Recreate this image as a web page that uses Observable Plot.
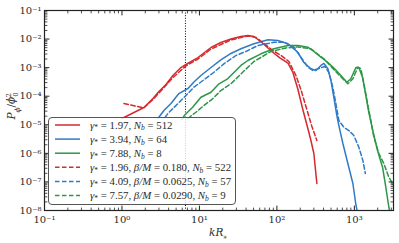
<!DOCTYPE html>
<html><head><meta charset="utf-8">
<script src="https://cdn.jsdelivr.net/npm/d3@7"></script>
<script src="https://cdn.jsdelivr.net/npm/@observablehq/plot@0.6"></script>
<style>body{margin:0;background:#fff}svg{display:block}</style>
</head><body><div id="chart"></div>
<script>
// ---- data (kR*, P_phi/phi0^2) ----
const redSolidK = [1.0,1.92,2.51,3.0,3.70,4.55,5.77,6.70,9.57,14.1,18.9,25.5,34.3,42.2,50.5,64,86,109,139,161,187,216,251,275,300,328];
const redSolidP = [1.66e-5,4.03e-5,8.3e-5,1.46e-4,2.57e-4,5.3e-4,1.01e-3,1.29e-3,2.26e-3,5.07e-3,7.6e-3,1.0e-2,1.23e-2,1.33e-2,1.23e-2,7.6e-3,3.67e-3,2.19e-3,1.45e-3,6.76e-4,1.72e-4,3.43e-5,7.4e-6,2.82e-6,9.9e-7,8.8e-8];
const blueSolidK = [2.91,3.48,4.29,5.43,7.11,8.49,10.45,14.1,18.9,25.5,34.3,50.5,76.6,103,139,187,223,275,319,370,404,455,498,544,594,631,711,824,957,1045,1109];
const blueSolidP = [1.66e-5,3.16e-5,5.56e-5,1.24e-4,1.86e-4,3.16e-4,5.3e-4,1.01e-3,1.86e-3,3.13e-3,4.57e-3,6.84e-3,9.44e-3,8.9e-3,6.84e-3,3.39e-3,1.51e-3,9.1e-4,7.94e-4,1.19e-3,1.40e-3,9.1e-4,3.55e-4,9.0e-5,2.11e-5,9.4e-6,2.21e-6,4.4e-7,8.8e-8,1.62e-8,7.2e-9];
const greenSolidK = [5.94,6.37,8.17,10.45,14.1,17.9,23.1,29.6,34.3,42.2,62.2,91.5,139,187,251,300,370,455,544,670,800,901,1045,1143,1276,1406,1538,1718,1991,2311,2549,2787,2916];
const greenSolidP = [1.53e-5,2.11e-5,4.12e-5,9.2e-5,1.38e-4,2.72e-4,4.07e-4,7.94e-4,1.19e-3,1.78e-3,3.05e-3,4.57e-3,5.96e-3,5.96e-3,5.19e-3,3.67e-3,2.32e-3,1.51e-3,9.7e-4,5.3e-4,3.09e-4,4.07e-4,1.01e-3,1.01e-3,4.5e-4,1.06e-4,2.69e-5,6.8e-6,1.26e-6,3.27e-7,6.5e-8,1.3e-8,7.2e-9];
const redDashK = [1.06,1.92,2.51,3.0,4.55,6.70,9.57,14.1,25.5,42.2,53.6,68,88.7,113,143,176,204,237,283,305,328];
const redDashP = [5.56e-5,3.9e-5,7.7e-5,1.29e-4,4.5e-4,1.15e-3,2.0e-3,4.47e-3,9.3e-3,1.29e-2,1.14e-2,7.0e-3,3.98e-3,2.66e-3,1.64e-3,5.3e-4,1.72e-4,4.37e-5,8.7e-6,4.95e-6,2.82e-6];
const blueDashK = [3.59,3.92,5.28,6.70,8.49,11.1,15.4,20.7,29.6,39.8,56.9,91.5,123,166,204,251,291,349,416,469,528,577,631,732,849,985,1143,1288,1387];
const blueDashP = [1.8e-5,2.48e-5,5.56e-5,1.06e-4,2.07e-4,3.55e-4,6.9e-4,1.36e-3,2.66e-3,3.67e-3,5.96e-3,7.76e-3,7.76e-3,5.19e-3,2.32e-3,1.04e-3,7.94e-4,9.3e-4,1.1e-3,6.76e-4,2.02e-4,5.56e-5,1.41e-5,8.2e-6,6.3e-6,4.2e-6,1.64e-6,5.6e-7,1.97e-7];
const greenDashK = [7.05,9.01,11.4,14.8,18.9,25.5,34.3,50.5,83.7,131,187,275,404,612,824,957,1109,1213,1327,1479,1633,1786,2070,2404,2787,3236];
const greenDashP = [1.66e-5,2.75e-5,4.73e-5,8.1e-5,1.58e-4,2.72e-4,6.0e-4,1.64e-3,3.67e-3,4.9e-3,5.3e-3,4.57e-3,2.04e-3,6.1e-4,2.72e-4,4.07e-4,1.04e-3,9.1e-4,2.79e-4,5.56e-5,1.41e-5,3.67e-6,9.9e-7,4.4e-7,1.46e-7,7.5e-8];
const vlineK = [6.6];

const xMajor = [0.1, 1, 10, 100, 1000];
const yMajor = [1e-8, 1e-7, 1e-6, 1e-5, 1e-4, 1e-3, 1e-2, 1e-1];
const xDomain = [0.1, 3200];
const yDomain = [1e-8, 1e-1];

const legendGamma = ["1.97", "3.94", "7.88", "1.96", "4.09", "7.57"];
const legendBeta  = [null, null, null, "0.180", "0.0625", "0.0290"];
const legendNb    = ["512", "64", "8", "522", "57", "9"];

const RED = "#d42a2e", BLUE = "#2f7bc6", GREEN = "#2c9747";
const seriesStyle = [
  {K: redSolidK, P: redSolidP, color: RED, dash: null},
  {K: blueSolidK, P: blueSolidP, color: BLUE, dash: null},
  {K: greenSolidK, P: greenSolidP, color: GREEN, dash: null},
  {K: redDashK, P: redDashP, color: RED, dash: "4.5,2.5"},
  {K: blueDashK, P: blueDashP, color: BLUE, dash: "4.5,2.5"},
  {K: greenDashK, P: greenDashP, color: GREEN, dash: "4.5,2.5"}
];

// minor tick positions (2..9 per decade)
const minor = (lo, hi) => { const out = []; for (let e = lo; e < hi; e++) for (let m = 2; m <= 9; m++) out.push(m * Math.pow(10, e)); return out; };
const xMinor = minor(-1, 4).filter(v => v <= xDomain[1]);
const yMinor = minor(-8, -1);

const supMap = {"-": "\u207B", "0": "\u2070", "1": "\u00B9", "2": "\u00B2", "3": "\u00B3", "4": "\u2074", "5": "\u2075", "6": "\u2076", "7": "\u2077", "8": "\u2078", "9": "\u2079"};
const fmt = v => "10" + String(Math.round(Math.log10(v))).split("").map(c => supMap[c]).join("");

const tickShape = {draw(ctx, l) { ctx.moveTo(0, 0); ctx.lineTo(0, -l); }};
const TK = "#222";
const tickMarks = (vals, len, w) => [
  Plot.vector(vals[0], {x: d => d, frameAnchor: "bottom", length: len, rotate: 0, anchor: "start", shape: tickShape, stroke: TK, strokeWidth: w}),
  Plot.vector(vals[0], {x: d => d, frameAnchor: "top", length: len, rotate: 180, anchor: "start", shape: tickShape, stroke: TK, strokeWidth: w}),
  Plot.vector(vals[1], {y: d => d, frameAnchor: "left", length: len, rotate: 90, anchor: "start", shape: tickShape, stroke: TK, strokeWidth: w}),
  Plot.vector(vals[1], {y: d => d, frameAnchor: "right", length: len, rotate: -90, anchor: "start", shape: tickShape, stroke: TK, strokeWidth: w})
];

const marks = [
  Plot.ruleX(vlineK, {stroke: "#000", strokeWidth: 1, strokeDasharray: "1,1.6"}),
  ...seriesStyle.map(s => Plot.line(s.K.map((k, i) => ({k, P: s.P[i]})), {
    x: "k", y: "P", stroke: s.color, strokeWidth: 1.5,
    strokeDasharray: s.dash, clip: true
  })),
  Plot.frame({stroke: "#222", strokeWidth: 1.2}),
  ...tickMarks([xMajor, yMajor], 4.5, 1),
  ...tickMarks([xMinor, yMinor], 2.5, 0.8),
  Plot.axisX(xMajor, {tickSize: 0, tickPadding: 5, tickFormat: fmt, label: null, fontSize: 10}),
  Plot.axisY(yMajor, {tickSize: 0, tickPadding: 3, tickFormat: fmt, label: null, fontSize: 10})
];

const chart = Plot.plot({
  width: 399, height: 243,
  marginLeft: 44, marginRight: 6, marginTop: 10, marginBottom: 33,
  x: {type: "log", domain: xDomain},
  y: {type: "log", domain: yDomain},
  style: {fontFamily: "'DejaVu Serif', serif", fontSize: "10px", color: "#2a2a2a", background: "#fff"},
  marks
});

const svg = d3.select(chart);
// axis titles
const yl = svg.append("text").attr("transform", "translate(15,106) rotate(-90)")
  .attr("text-anchor", "middle").attr("fill", "#2a2a2a").attr("font-size", 10.5);
yl.append("tspan").attr("font-style", "italic").text("P");
yl.append("tspan").attr("font-style", "italic").attr("baseline-shift", "sub").attr("font-size", "70%").text("\u03D5");
yl.append("tspan").text("/");
yl.append("tspan").attr("font-style", "italic").text("\u03D5");
yl.append("tspan").attr("dx", "-0.1em").attr("baseline-shift", "super").attr("font-size", "65%").text("2");
yl.append("tspan").attr("dx", "-0.55em").attr("dy", "3").attr("font-size", "65%").text("0");

const xl = svg.append("text").attr("x", 218).attr("y", 236)
  .attr("text-anchor", "middle").attr("fill", "#2a2a2a").attr("font-size", 10.5);
xl.append("tspan").attr("font-style", "italic").text("kR");
xl.append("tspan").attr("baseline-shift", "sub").attr("font-size", "70%").text("*");

// legend
const lg = svg.append("g").attr("text-anchor", "start");
lg.append("rect").attr("x", 48.5).attr("y", 117.5).attr("width", 187).attr("height", 87)
  .attr("rx", 3.5).attr("fill", "#fff").attr("fill-opacity", 0.8).attr("stroke", "#555").attr("stroke-width", 1);
legendGamma.forEach((g, i) => {
  const yy = 125 + i * 14.1;
  const s = seriesStyle[i];
  lg.append("line").attr("x1", 55).attr("x2", 80).attr("y1", yy).attr("y2", yy)
    .attr("stroke", s.color).attr("stroke-width", 1.5).attr("stroke-dasharray", s.dash);
  const t = lg.append("text").attr("x", 90).attr("y", yy + 3.6).attr("fill", "#2a2a2a")
    .attr("text-anchor", "start")
    .attr("font-family", "'Liberation Serif', serif").attr("font-size", 10.8);
  t.append("tspan").attr("font-style", "italic").text("\u03B3");
  t.append("tspan").attr("dy", 1.8).attr("font-size", "70%").text("*");
  t.append("tspan").attr("dy", -1.8).text(" = " + g + ", ");
  if (legendBeta[i]) {
    t.append("tspan").attr("font-style", "italic").text("\u03B2/M");
    t.append("tspan").text(" = " + legendBeta[i] + ", ");
  }
  t.append("tspan").attr("font-style", "italic").text("N");
  t.append("tspan").attr("font-style", "italic").attr("dy", 1.8).attr("font-size", "70%").text("b");
  t.append("tspan").attr("dy", -1.8).text(" = " + legendNb[i]);
});

document.getElementById("chart").appendChild(chart);
</script>
</body></html>
